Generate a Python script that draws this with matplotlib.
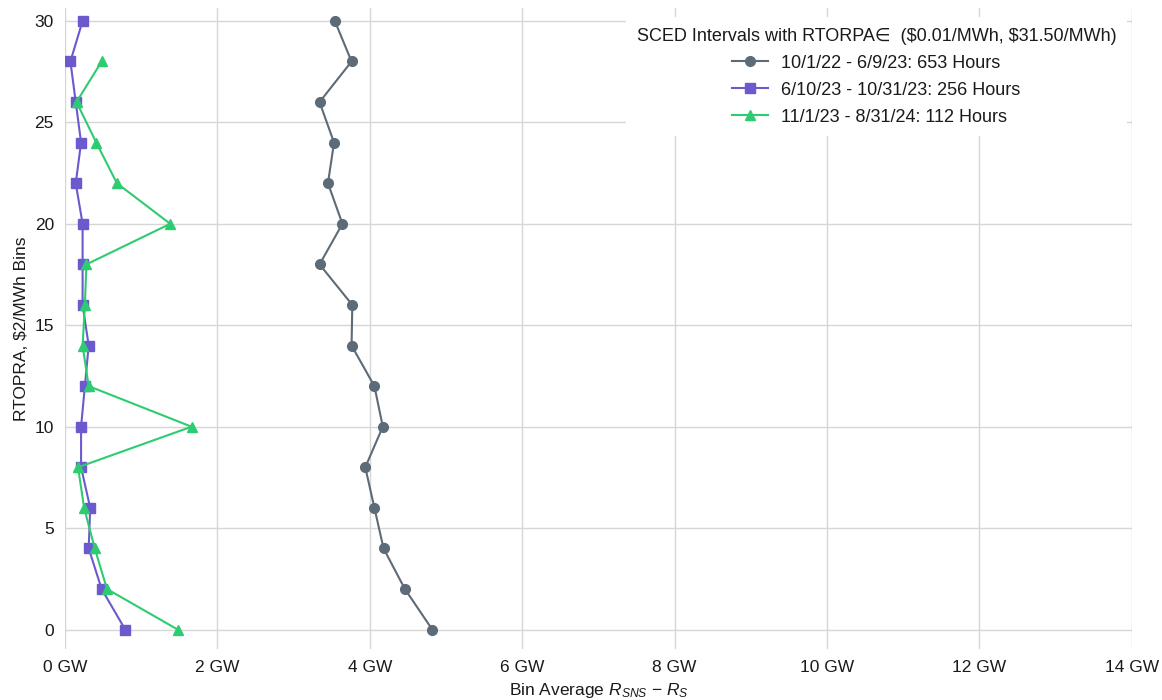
import numpy as np
import matplotlib
matplotlib.use("Agg")
import matplotlib.pyplot as plt
from matplotlib.ticker import FuncFormatter

# RTORPA bins ($2/MWh)
bins_a = [0, 2, 4, 6, 8, 10, 12, 14, 16, 18, 20, 22, 24, 26, 28, 30]
bins_b = [0, 2, 4, 6, 8, 10, 12, 14, 16, 18, 20, 22, 24, 26, 28, 30]
bins_c = [0, 2, 4, 6, 8, 10, 12, 14, 16, 18, 20, 22, 24, 26, 28]

# bin average R_SNS - R_S in GW
gw_a = [4.82, 4.46, 4.18, 4.06, 3.94, 4.17, 4.06, 3.76, 3.77, 3.34, 3.64, 3.45, 3.53, 3.34, 3.76, 3.54]
gw_b = [0.79, 0.48, 0.31, 0.33, 0.21, 0.21, 0.26, 0.31, 0.23, 0.23, 0.23, 0.14, 0.21, 0.14, 0.07, 0.23]
gw_c = [1.48, 0.55, 0.39, 0.25, 0.17, 1.66, 0.31, 0.23, 0.26, 0.28, 1.38, 0.68, 0.41, 0.15, 0.48]

labels = ["10/1/22 - 6/9/23: 653 Hours",
          "6/10/23 - 10/31/23: 256 Hours",
          "11/1/23 - 8/31/24: 112 Hours"]

plt.rcParams['font.family'] = ['Liberation Sans', 'DejaVu Sans']
plt.rcParams['mathtext.fontset'] = 'custom'
plt.rcParams['mathtext.rm'] = 'Liberation Sans'
plt.rcParams['mathtext.it'] = 'Liberation Sans:italic'

fig = plt.figure(figsize=(11.62, 7.0), dpi=100)
ax = fig.add_axes([0.056, 0.073, 0.918, 0.916])

ax.plot(gw_a, bins_a, 'o-', color="#5d6b78", lw=1.5, ms=7, label=labels[0])
ax.plot(gw_b, bins_b, 's-', color="#6a5acd", lw=1.5, ms=7, label=labels[1])
ax.plot(gw_c, bins_c, '^-', color="#2ecc71", lw=1.5, ms=7, label=labels[2])

ax.set_xlim(0, 14)
ax.set_ylim(-0.95, 30.65)
ax.set_xticks(np.arange(0, 15, 2))
ax.xaxis.set_major_formatter(FuncFormatter(lambda v, p: f"{v:.0f} GW"))
ax.set_yticks([0, 5, 10, 15, 20, 25, 30])

ax.grid(True, color="#d6d6d6", lw=1)
ax.set_axisbelow(True)
for s in ax.spines.values():
    s.set_visible(False)
ax.tick_params(length=0, labelsize=12.5, colors="#1a1a1a", pad=8)

ax.set_xlabel(r"Bin Average $R_{SNS}$ $-$ $R_S$", fontsize=12.5, color="#1a1a1a")
ax.set_ylabel("RTOPRA, \\$2/MWh Bins", fontsize=12.5, color="#1a1a1a")

leg = ax.legend(title="SCED Intervals with RTORPA\u2208  (\\$0.01/MWh, \\$31.50/MWh)",
                loc="upper right", bbox_to_anchor=(0.9955, 0.9855),
                fontsize=13, title_fontsize=13,
                frameon=True, facecolor="white", edgecolor="white", framealpha=1,
                borderaxespad=0.0, handlelength=2.0, handletextpad=0.7,
                borderpad=0.6, labelspacing=0.55)
leg.get_frame().set_linewidth(0)
plt.setp(leg.get_texts(), color="#1a1a1a")
leg.get_title().set_color("#1a1a1a")

fig.savefig("out.png", dpi=100)
